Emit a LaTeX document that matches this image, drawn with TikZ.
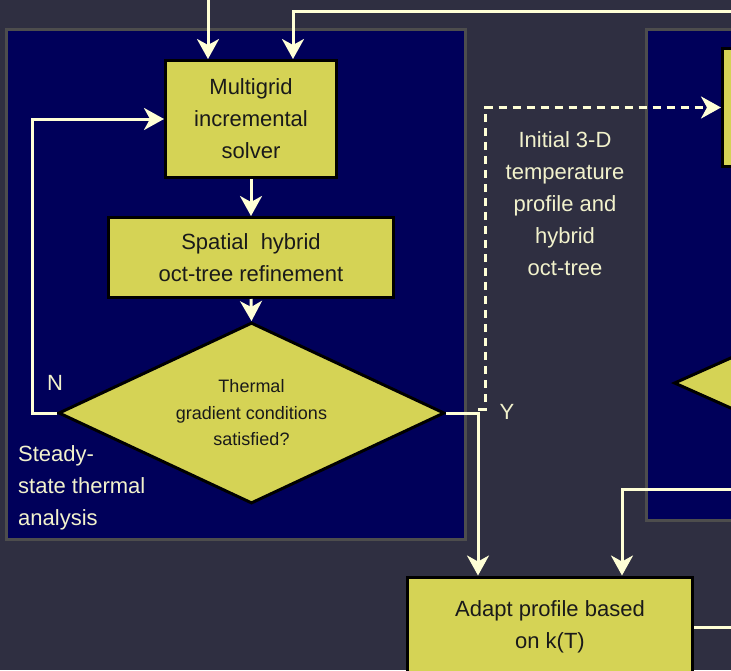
\documentclass[tikz,border=0pt]{standalone}
\usepackage{fontspec}
\setmainfont{Liberation Sans}
\usetikzlibrary{shapes.geometric,arrows.meta}

\definecolor{bgslate}{HTML}{2F2F41}
\definecolor{panelnavy}{HTML}{00005A}
\definecolor{panelrim}{HTML}{4D4D4D}
\definecolor{boxfill}{HTML}{D5D355}
\definecolor{inktext}{HTML}{1A1A1A}
\definecolor{cream}{HTML}{FFFFD6}
\definecolor{creamtext}{HTML}{F2F2CC}

\tikzset{
  panel/.style={fill=panelnavy, draw=panelrim, line width=3pt},
  procbox/.style={rectangle, fill=boxfill, draw=black, line width=3pt,
    text=inktext, align=center, inner sep=0pt,
    font=\fontsize{22}{32}\selectfont},
  decision/.style={diamond, aspect=2.1, fill=boxfill, draw=black,
    line width=3pt, text=inktext, align=center, inner sep=0pt,
    font=\fontsize{18}{26.5}\selectfont},
  note/.style={text=creamtext, inner sep=0pt,
    font=\fontsize{22}{32}\selectfont},
  flow/.style={draw=cream, line width=3pt,
    -{Stealth[length=20pt,width=22pt,inset=6pt]}},
  dashflow/.style={flow, dash pattern=on 8pt off 6pt},
  plainflow/.style={draw=cream, line width=3pt}
}

\begin{document}
\begin{tikzpicture}[x=1pt,y=-1pt]
  \fill[bgslate] (0,0) rectangle (731,670);
  \useasboundingbox (0,0) rectangle (731,670);
  \clip (0,0) rectangle (731,670);

  % background panels
  \draw[panel] (6.5,29.5) rectangle (465.5,539.5);
  \draw[panel] (646.5,29.5) rectangle (800,520.5);

  % steady-state loop
  \node[procbox, minimum width=171pt, minimum height=117pt]
    (multigrid) at (251,119) {Multigrid\\incremental\\solver};
  \node[procbox, minimum width=285pt, minimum height=80pt]
    (spatial) at (251,257.5) {Spatial\ \ hybrid\\oct-tree refinement};
  \node[decision, minimum width=386pt, minimum height=181pt]
    (decide) at (251.5,413) {Thermal\\gradient conditions\\satisfied?};

  % next stage (right panel)
  \node[procbox, minimum width=200pt, minimum height=118pt]
    (nextbox) at (822.5,107.5) {};
  \node[decision, minimum width=380pt, minimum height=170pt]
    (nextdecide) at (864,383) {};

  % adaptation step
  \node[procbox, minimum width=285pt, minimum height=100pt]
    (adapt) at (550,627) {Adapt profile based\\on k(T)};

  % labels
  \node[note] (nlabel) at (55,383) {N};
  \node[note] (ylabel) at (507,412) {Y};
  \node[note, align=center] (initlabel) at (565,204)
    {Initial 3-D\\temperature\\profile and\\hybrid\\oct-tree};
  \node[note, align=left, anchor=west] (steadylabel) at (18,488)
    {Steady-\\state thermal\\analysis};

  % helper coordinates
  \coordinate (topin) at (208,0);
  \coordinate (loopin) at (760,11);
  \coordinate (loopx) at (293,0);
  \coordinate (nx) at (32,0);
  \coordinate (yx) at (478,0);
  \coordinate (dstart) at (478,409);
  \coordinate (dturn) at (485,409);
  \coordinate (rin) at (760,489);
  \coordinate (rx) at (622,0);
  \coordinate (outr) at (760,627);

  % connectors
  \draw[flow] (topin) -- (topin |- multigrid.north);
  \draw[flow] (loopin) -| (loopx |- multigrid.north);
  \draw[flow] (multigrid.south) -- (spatial.north);
  \draw[flow] (spatial.south) -- (decide.north);
  \draw[flow] (decide.west) -- (nx |- decide.west) |- (multigrid.west);
  \draw[flow] (decide.east) -| (yx |- adapt.north);
  \draw[dashflow] (dstart) -- (dturn) |- (nextbox.west);
  \draw[flow] (rin) -| (rx |- adapt.north);
  \draw[plainflow] (adapt.east) -- (outr);
\end{tikzpicture}
\end{document}
